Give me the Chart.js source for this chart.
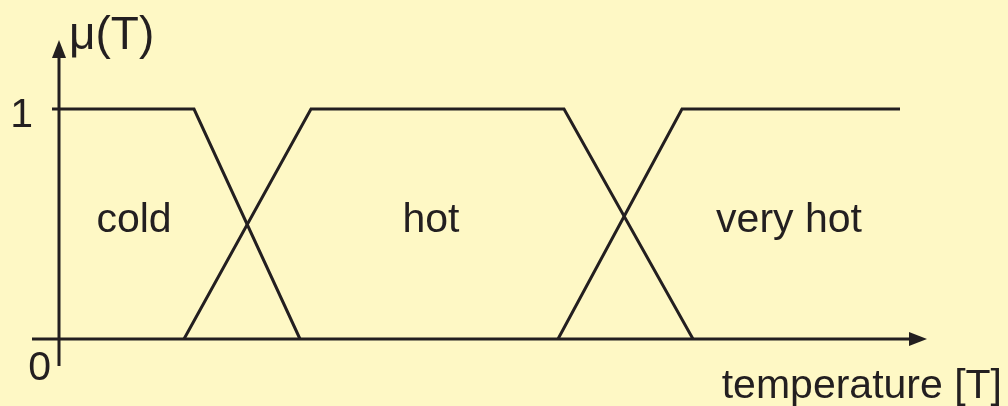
<!DOCTYPE html>
<html>
<head>
<meta charset="utf-8">
<script src="https://cdn.jsdelivr.net/npm/chart.js@4.4.1/dist/chart.umd.min.js"></script>
<style>
  html, body { margin: 0; padding: 0; background: #fef8c5; }
  canvas { display: block; }
</style>
</head>
<body>
<canvas id="fuzzyChart" width="1008" height="406"></canvas>
<script>
// membership functions, temperature in arbitrary units
var coldT = [0, 13.5, 24.1];
var coldMu = [1, 1, 0];
var hotT = [12.5, 25.2, 50.5, 63.4];
var hotMu = [0, 1, 1, 0];
var veryHotT = [49.9, 62.3, 84.1];
var veryHotMu = [0, 1, 1];

// set names and where they sit
var setNames = ['cold', 'hot', 'very hot'];
var setLabelT = [7.5, 37.2, 73.0];
var setLabelMu = [0.467, 0.467, 0.467];

// axis texts
var yTickLabels = ['0', '1'];
var yTickValues = [0, 1];
var yTitle = '\u03bc(T)';
var xTitle = 'temperature [T]';

var ink = '#231f20';
var font = '"Liberation Sans", Arial, sans-serif';

function toPoints(xs, ys) {
    return xs.map(function (x, i) { return { x: x, y: ys[i] }; });
}

function makeSet(label, xs, ys) {
    return {
        label: label,
        data: toPoints(xs, ys),
        borderColor: ink,
        borderWidth: 3,
        pointRadius: 0,
        fill: false,
        tension: 0,
        clip: false
    };
}

// axes with arrows plus all the text
var axesPlugin = {
    id: 'fuzzyAxes',
    beforeDatasetsDraw: function (chart) {
        var ctx = chart.ctx;
        var xs = chart.scales.x;
        var ys = chart.scales.y;
        var x0 = xs.getPixelForValue(0);
        var y0 = ys.getPixelForValue(0);
        var yTop = ys.getPixelForValue(ys.max);
        var yBot = ys.getPixelForValue(ys.min);
        var xLeft = xs.getPixelForValue(xs.min);
        var xRight = xs.getPixelForValue(xs.max);
        var head = 18, half = 7;

        ctx.save();
        ctx.strokeStyle = ink;
        ctx.fillStyle = ink;
        ctx.lineWidth = 3;

        // y axis
        ctx.beginPath();
        ctx.moveTo(x0, yBot);
        ctx.lineTo(x0, yTop + head);
        ctx.stroke();
        ctx.beginPath();
        ctx.moveTo(x0, yTop);
        ctx.lineTo(x0 - half, yTop + head);
        ctx.lineTo(x0 + half, yTop + head);
        ctx.closePath();
        ctx.fill();

        // x axis
        ctx.beginPath();
        ctx.moveTo(xLeft, y0);
        ctx.lineTo(xRight - head, y0);
        ctx.stroke();
        ctx.beginPath();
        ctx.moveTo(xRight, y0);
        ctx.lineTo(xRight - head, y0 - half);
        ctx.lineTo(xRight - head, y0 + half);
        ctx.closePath();
        ctx.fill();

        // tick at 1
        var y1 = ys.getPixelForValue(1);
        ctx.beginPath();
        ctx.moveTo(x0 - 7, y1);
        ctx.lineTo(x0, y1);
        ctx.stroke();

        ctx.font = '41px ' + font;
        ctx.textBaseline = 'alphabetic';

        // tick labels
        ctx.textAlign = 'right';
        ctx.fillText(yTickLabels[1], x0 - 26, ys.getPixelForValue(yTickValues[1]) + 18);
        ctx.fillText(yTickLabels[0], x0 - 8, ys.getPixelForValue(yTickValues[0]) + 41);

        // set names
        ctx.textAlign = 'center';
        setNames.forEach(function (name, i) {
            ctx.fillText(name, xs.getPixelForValue(setLabelT[i]), ys.getPixelForValue(setLabelMu[i]));
        });

        // axis titles
        ctx.textAlign = 'right';
        ctx.fillText(xTitle, 1002, 398);
        ctx.textAlign = 'left';
        ctx.font = '46px ' + font;
        ctx.fillText(yTitle, x0 + 10, 49);

        ctx.restore();
    }
};

new Chart(document.getElementById('fuzzyChart'), {
    type: 'line',
    data: {
        datasets: [
            makeSet('cold', coldT, coldMu),
            makeSet('hot', hotT, hotMu),
            makeSet('very hot', veryHotT, veryHotMu)
        ]
    },
    options: {
        responsive: false,
        animation: false,
        devicePixelRatio: 1,
        layout: { padding: { left: 32, right: 81, top: 40, bottom: 40 } },
        scales: {
            x: { type: 'linear', min: -2.7, max: 86.8, display: false },
            y: { type: 'linear', min: -0.1174, max: 1.3, display: false }
        },
        plugins: {
            legend: { display: false },
            tooltip: { enabled: false }
        }
    },
    plugins: [axesPlugin]
});
</script>
</body>
</html>
